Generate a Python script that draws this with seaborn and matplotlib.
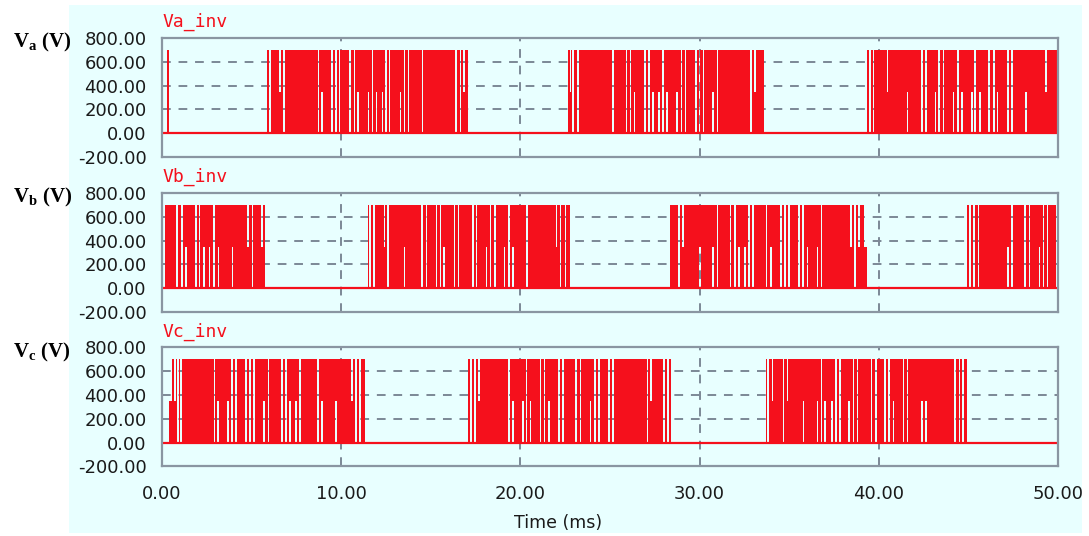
import numpy as np
import matplotlib
matplotlib.use("Agg")
import matplotlib.pyplot as plt
from matplotlib.patches import Rectangle
import seaborn as sns

# time axis (ms) and voltage levels (V)
T_START, T_END = 0.0, 50.0
V_HIGH, V_MID = 700, 350
NOTCH_W = 0.09

# active switching windows of each phase (ms)
VA_BLOCKS = [(0.28, 0.38), (5.88, 17.06), (22.65, 33.59), (39.31, 50.0)]
VB_BLOCKS = [(0.17, 5.75), (11.47, 22.79), (28.34, 39.33), (44.92, 50.0)]
VC_BLOCKS = [(0.39, 11.30), (17.08, 28.38), (33.69, 44.90)]

# notches inside the windows: (centre ms, kind[, width ms])
# f = drops to 0, u = drops to 350, l = lower half off (350..700 only)
VA_NOTCHES = [
    (6.03, 'f'), (6.59, 'u'), (6.82, 'f'), (8.73, 'f'), (8.92, 'l'), (9.48, 'f'),
    (9.72, 'f'), (9.91, 'f'), (10.50, 'f'), (10.74, 'f'), (10.93, 'l'), (11.53, 'l'),
    (11.75, 'f'), (11.96, 'l'), (12.31, 'l'), (12.51, 'f'), (12.70, 'f'), (13.30, 'l'),
    (13.52, 'f'), (13.76, 'f'), (14.54, 'f'), (16.41, 'f'), (16.65, 'f'), (16.85, 'u'),
    (22.79, 'u'), (22.94, 'f'), (23.20, 'f'), (25.16, 'f'), (25.92, 'f'), (26.15, 'f'),
    (26.37, 'l'), (26.95, 'f'), (27.17, 'f'), (27.39, 'l'), (27.73, 'l'), (27.95, 'f'),
    (28.17, 'l'), (28.75, 'l'), (28.98, 'f'), (29.22, 'f'), (29.78, 'f'), (30.00, 'f'),
    (30.21, 'f'), (30.75, 'l'), (30.99, 'f'), (32.85, 'f'), (33.09, 'u'),
    (39.50, 'f'), (39.70, 'f'), (40.48, 'u'), (41.60, 'l'), (42.39, 'f'), (42.63, 'f'),
    (43.15, 'l'), (43.37, 'f'), (43.61, 'f'), (44.17, 'l'), (44.40, 'f'), (44.64, 'l'),
    (45.18, 'l'), (45.38, 'f'), (45.64, 'l'), (46.16, 'f'), (46.41, 'f'), (46.63, 'l'),
    (47.19, 'f'), (47.43, 'f'), (48.21, 'l'), (49.33, 'u'),
]
VB_NOTCHES = [
    (0.85, 'f'), (1.10, 'f'), (1.34, 'l'), (1.88, 'f'), (2.10, 'f'), (2.35, 'l'),
    (2.65, 'l'), (2.90, 'f'), (3.15, 'l'), (3.93, 'l'), (4.80, 'u'), (5.05, 'f'),
    (5.57, 'u'),
    (11.62, 'f'), (11.84, 'f'), (12.42, 'u'), (12.61, 'f'), (13.54, 'l'), (14.51, 'f'),
    (14.75, 'f'), (15.31, 'f'), (15.53, 'f'), (15.75, 'l'), (16.33, 'f'), (16.55, 'f'),
    (17.34, 'f'), (17.54, 'f'), (18.10, 'l'), (18.32, 'f'), (18.57, 'f'), (19.12, 'l'),
    (19.35, 'f'), (19.59, 'l'), (20.37, 'f'), (22.01, 'u'), (22.23, 'f'), (22.51, 'f'),
    (28.84, 'f'), (29.07, 'u'), (30.02, 'l'), (30.74, 'l'), (30.99, 'f'), (31.73, 'f'),
    (31.96, 'f'), (32.20, 'l'), (32.53, 'l'), (32.75, 'f'), (32.98, 'f'), (33.74, 'f'),
    (33.97, 'l'), (34.53, 'f'), (34.77, 'f'), (34.99, 'f'), (35.55, 'f'), (35.77, 'f'),
    (36.02, 'l'), (36.57, 'l'), (36.80, 'f'), (38.44, 'u'), (38.66, 'f'), (38.90, 'u'),
    (39.26, 'u', 0.14),
    (45.10, 'f'), (45.32, 'f'), (45.55, 'f'), (47.19, 'l'), (47.43, 'f'), (48.17, 'f'),
    (48.40, 'f'), (48.96, 'l'), (49.18, 'f'), (49.42, 'f'), (49.94, 'f'),
]
VC_NOTCHES = [
    (0.465, 'u', 0.15), (0.73, 'u'), (0.88, 'f'), (1.06, 'f'), (2.92, 'f'), (3.11, 'l'),
    (3.67, 'l'), (3.89, 'f'), (4.12, 'f'), (4.69, 'f'), (4.92, 'f'), (5.14, 'f'),
    (5.70, 'l'), (5.94, 'f'), (6.69, 'f'), (6.91, 'f'), (7.15, 'l'), (7.49, 'l'),
    (7.71, 'f'), (8.70, 'f'), (8.92, 'l'), (9.72, 'l'), (10.60, 'u'), (10.84, 'f'),
    (11.06, 'f'),
    (17.23, 'f'), (17.45, 'f'), (17.67, 'u'), (19.35, 'f'), (19.57, 'l'), (20.13, 'l'),
    (20.34, 'f'), (20.56, 'l'), (21.12, 'f'), (21.34, 'f'), (21.58, 'l'), (22.14, 'f'),
    (22.36, 'f'), (23.11, 'f'), (23.35, 'f'), (23.91, 'l'), (24.15, 'f'), (24.37, 'f'),
    (24.93, 'f'), (25.16, 'f'), (27.08, 'f'), (27.30, 'u'), (28.01, 'f'), (28.23, 'f'),
    (33.82, 'f'), (34.06, 'u'), (34.68, 'f'), (34.90, 'u'), (35.79, 'l'), (36.57, 'l'),
    (36.80, 'f'), (37.00, 'l'), (37.37, 'l'), (37.60, 'f'), (37.82, 'f'), (38.34, 'l'),
    (38.58, 'f'), (38.81, 'f'), (39.59, 'f'), (39.83, 'f'), (40.35, 'f'), (40.58, 'f'),
    (40.82, 'l'), (41.38, 'f'), (41.60, 'f'), (42.39, 'l'), (42.63, 'l'), (44.26, 'f'),
    (44.49, 'f'), (44.71, 'f'),
]

TITLES = ["Va_inv", "Vb_inv", "Vc_inv"]
YLABELS = [r"$\mathbf{V_a}$ (V)", r"$\mathbf{V_b}$ (V)", r"$\mathbf{V_c}$ (V)"]
Y_TICKS = [-200, 0, 200, 400, 600, 800]
X_TICKS = [0, 10, 20, 30, 40, 50]

RED = "#f5101c"
BG = "#e8ffff"
GRID = "#7c8896"
EDGE = "#8a96a2"

LEVELS = {'f': (0, 0), 'u': (V_MID, 0), 'l': (V_HIGH, V_MID)}  # (top, bottom)


def waveform(blocks, notches):
    edges = {T_START, T_END}
    spans = []
    for s, e in blocks:
        edges |= {s, e}
    for n in notches:
        w = n[2] if len(n) > 2 else NOTCH_W
        a, b = n[0] - w / 2, n[0] + w / 2
        spans.append((a, b, n[1]))
        edges |= {a, b}
    t = np.array(sorted(edges))
    hi = np.zeros(len(t))
    lo = np.zeros(len(t))
    for i in range(len(t) - 1):
        m = (t[i] + t[i + 1]) / 2
        if any(s <= m < e for s, e in blocks):
            hi[i], lo[i] = V_HIGH, 0
            for a, b, k in spans:
                if a <= m < b:
                    hi[i], lo[i] = LEVELS[k]
    hi[-1], lo[-1] = hi[-2], lo[-2]
    return t, lo, hi


sns.set_style("white")
plt.rcParams['font.family'] = ['DejaVu Sans']
plt.rcParams['mathtext.fontset'] = 'custom'
plt.rcParams['mathtext.bf'] = 'Liberation Serif:bold'
plt.rcParams['mathtext.rm'] = 'Liberation Serif'

fig = plt.figure(figsize=(10.89, 5.36), dpi=100)
fig.patch.set_facecolor("white")
fig.patches.append(Rectangle((0.0634, 0.0056), 0.9302, 0.985, transform=fig.transFigure,
                             facecolor=BG, edgecolor="none", zorder=-10))

panels = [(VA_BLOCKS, VA_NOTCHES), (VB_BLOCKS, VB_NOTCHES), (VC_BLOCKS, VC_NOTCHES)]
bottoms = [0.7071, 0.4179, 0.1297]

for i, (blocks, notches) in enumerate(panels):
    ax = fig.add_axes([0.1488, bottoms[i], 0.8228, 0.222])
    ax.set_facecolor("none")
    t, lo, hi = waveform(blocks, notches)

    ax.fill_between(t, lo, hi, step="post", color=RED, linewidth=0, zorder=3)
    sns.lineplot(x=t, y=np.zeros_like(t), color=RED, linewidth=1.6, ax=ax, zorder=4)

    ax.set_xlim(T_START, T_END)
    ax.set_ylim(Y_TICKS[0], Y_TICKS[-1])
    ax.set_xticks(X_TICKS)
    ax.set_yticks(Y_TICKS)
    ax.set_yticklabels([f"{v:.2f}" for v in Y_TICKS])
    ax.grid(True, color=GRID, linestyle=(0, (4.5, 4)), linewidth=1.4)
    ax.set_axisbelow(True)
    ax.tick_params(length=0, labelsize=13, colors="#1a1a1a", pad=11)
    for sp in ax.spines.values():
        sp.set_visible(True)
        sp.set_color(EDGE)
        sp.set_linewidth(1.6)
        sp.set_zorder(5)

    if i < 2:
        ax.set_xticklabels([])
    else:
        ax.set_xticklabels([f"{v:.2f}" for v in X_TICKS])
        ax.tick_params(axis="x", pad=13)
        ax.set_xlabel("Time (ms)", fontsize=12.5, color="#1a1a1a")
        ax.xaxis.set_label_coords(0.442, -0.40)

    ax.set_title(TITLES[i], loc="left", color=RED, fontsize=13,
                 family="DejaVu Sans Mono", pad=8)
    ax.text(-0.1663, 0.96, YLABELS[i], transform=ax.transAxes, ha="left", va="center",
            fontsize=15, fontweight="bold", family="Liberation Serif", color="black")

fig.savefig("out.png", dpi=100, facecolor=fig.get_facecolor())
